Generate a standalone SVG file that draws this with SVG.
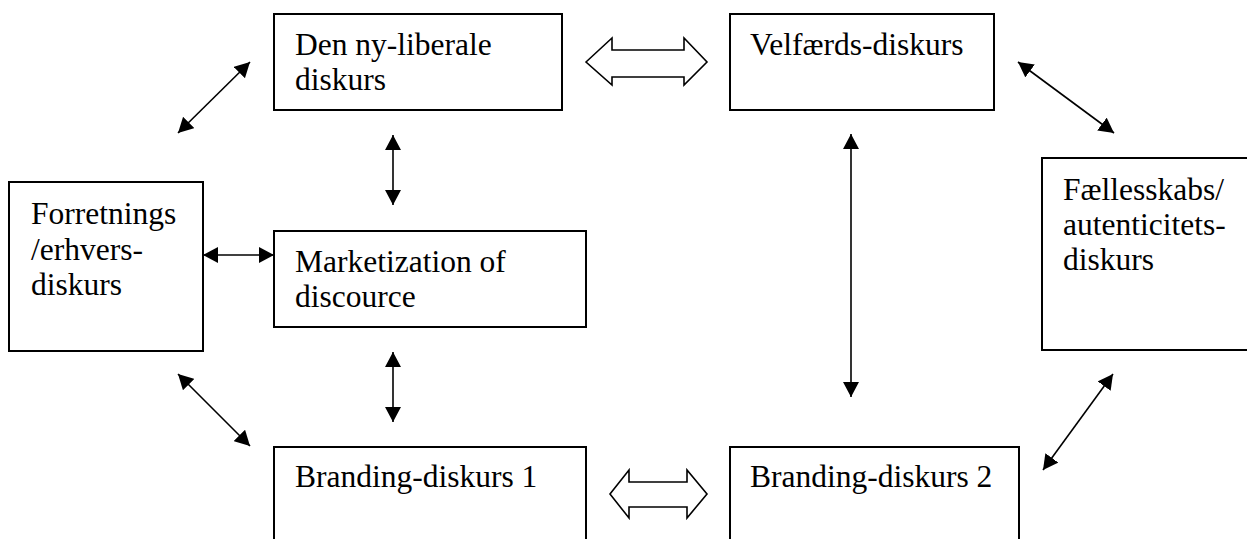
<svg xmlns="http://www.w3.org/2000/svg" width="1247" height="539" viewBox="0 0 1247 539">
<defs>
<style>
.box{fill:#fff;stroke:#000;stroke-width:2}
.t{font-family:"Liberation Serif","Times New Roman",serif;font-size:31.5px;fill:#000}
.c{stroke:#000;stroke-width:1.6;fill:none;marker-start:url(#ah);marker-end:url(#ah)}
.blk{fill:#fff;stroke:#000;stroke-width:1.6}
</style>
<marker id="ah" markerUnits="userSpaceOnUse" markerWidth="16" markerHeight="16" refX="15" refY="8" orient="auto-start-reverse" viewBox="0 0 16 16">
<path d="M0,0 L15,8 L0,16 z" fill="#000"/>
</marker>
</defs>
<rect width="1247" height="539" fill="#fff"/>
<g id="connectors">
<line class="c" x1="178" y1="133" x2="250" y2="62"/>
<line class="c" x1="393" y1="135" x2="393" y2="205"/>
<line class="c" x1="203" y1="255" x2="274" y2="255"/>
<line class="c" x1="393" y1="352" x2="393" y2="422"/>
<line class="c" x1="178" y1="374" x2="250" y2="446"/>
<line class="c" x1="851" y1="134" x2="851" y2="397"/>
<line class="c" x1="1018" y1="62" x2="1114" y2="133"/>
<line class="c" x1="1113" y1="374" x2="1043" y2="470"/>
<polygon class="blk" points="586,62 612,38 612,50 684,50 684,38 707,62 684,85 684,77 612,77 612,85"/>
<polygon class="blk" points="610,494 629,470 629,482 687,482 687,470 707,494 687,518 687,507 629,507 629,518"/>
</g>
<g id="node-nyliberal">
<rect class="box" x="274" y="14" width="288" height="96"/>
<text class="t" x="295" y="55">Den ny-liberale</text>
<text class="t" x="295" y="90">diskurs</text>
</g>
<g id="node-velfaerd">
<rect class="box" x="730" y="14" width="264" height="96"/>
<text class="t" x="750" y="55">Velfærds-diskurs</text>
</g>
<g id="node-forretning">
<rect class="box" x="9" y="182" width="194" height="169"/>
<text class="t" x="31" y="224">Forretnings</text>
<text class="t" x="31" y="260">/erhvers-</text>
<text class="t" x="31" y="295">diskurs</text>
</g>
<g id="node-marketization">
<rect class="box" x="274" y="231" width="312" height="96"/>
<text class="t" x="295" y="272">Marketization of</text>
<text class="t" x="295" y="307">discource</text>
</g>
<g id="node-faellesskab">
<rect class="box" x="1042" y="158" width="220" height="192"/>
<text class="t" x="1063" y="200">Fællesskabs/</text>
<text class="t" x="1063" y="235">autenticitets-</text>
<text class="t" x="1063" y="270">diskurs</text>
</g>
<g id="node-branding1">
<rect class="box" x="274" y="447" width="312" height="110"/>
<text class="t" x="295" y="487">Branding-diskurs 1</text>
</g>
<g id="node-branding2">
<rect class="box" x="730" y="447" width="289" height="110"/>
<text class="t" x="750" y="487">Branding-diskurs 2</text>
</g>
</svg>
